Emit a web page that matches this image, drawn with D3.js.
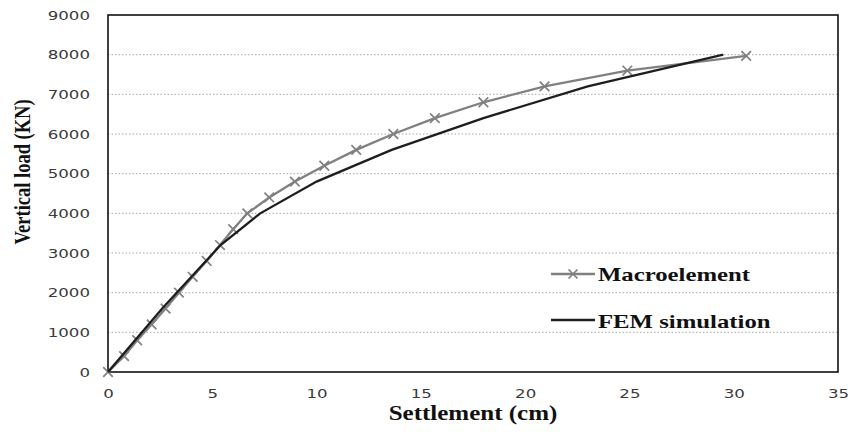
<!DOCTYPE html>
<meta charset="utf-8">
<style>
body { margin: 0; background: #fff; }
.grid line { stroke: #a6a6a6; stroke-dasharray: 1.5,2; }
.tick text { font-family: "DejaVu Sans", Verdana, sans-serif; font-size: 12.8px; fill: #3a3a3a; }
.title { font-family: "Liberation Serif", "Times New Roman", serif; font-weight: bold; fill: #111; }
</style>
<svg width="848" height="432"></svg>
<script src="https://d3js.org/d3.v7.min.js"></script>
<script>

// settlement (cm) / vertical load (KN)
var macroX = [0, 0.77, 1.4, 2.09, 2.76, 3.4, 4.06, 4.73, 5.37, 6.0, 6.68, 7.73, 8.96, 10.37, 11.9, 13.68, 15.67, 18.0, 20.93, 24.9, 30.6];
var macroY = [0, 400, 800, 1200, 1600, 2000, 2400, 2800, 3200, 3600, 4000, 4400, 4800, 5200, 5600, 6000, 6400, 6800, 7200, 7600, 7970];

var femX = [0, 1.3, 2.6, 4.0, 5.4, 7.3, 10.0, 13.6, 18.0, 23.0, 29.5];
var femY = [0, 800, 1600, 2400, 3200, 4000, 4800, 5600, 6400, 7200, 8000];

var xTicks = [0, 5, 10, 15, 20, 25, 30, 35];
var yTicks = [0, 1000, 2000, 3000, 4000, 5000, 6000, 7000, 8000, 9000];

var seriesNames = ["Macroelement", "FEM simulation"];

var stretch = 1.3; // the original picture is stretched sideways

var svg = d3.select("svg");
var plotL = 108, plotR = 838, plotT = 15, plotB = 372;

var x = d3.scaleLinear().domain([0, 35]).range([plotL, plotR]);
var y = d3.scaleLinear().domain([0, 9000]).range([plotB, plotT]);

// gridlines
svg.append("g")
    .attr("class", "grid")
  .selectAll("line")
  .data(yTicks.filter(function(d) { return d > 0 && d < 9000; }))
  .enter().append("line")
    .attr("x1", plotL)
    .attr("x2", plotR)
    .attr("y1", function(d) { return y(d); })
    .attr("y2", function(d) { return y(d); });

// axes
var yAxis = svg.append("g")
    .attr("transform", "translate(" + plotL + ",0)")
    .call(d3.axisLeft(y).tickValues(yTicks).tickSize(0).tickFormat(d3.format("d")));
yAxis.select(".domain").remove();
yAxis.selectAll("text")
    .attr("x", -18 / stretch)
    .attr("transform", "scale(" + stretch + ",1)");

var xAxis = svg.append("g")
    .attr("transform", "translate(0," + plotB + ")")
    .call(d3.axisBottom(x).tickValues(xTicks).tickSize(0));
xAxis.select(".domain").remove();
xAxis.selectAll(".tick text")
    .attr("y", 26)
    .attr("dy", 0)
    .attr("transform", "scale(" + stretch + ",1)");

// plot box
svg.append("rect")
    .attr("x", plotL)
    .attr("y", plotT)
    .attr("width", plotR - plotL)
    .attr("height", plotB - plotT)
    .attr("fill", "none")
    .attr("stroke", "#111")
    .attr("stroke-width", 1.6);

var line = d3.line()
    .x(function(d) { return x(d[0]); })
    .y(function(d) { return y(d[1]); });

var macro = d3.zip(macroX, macroY);
var fem = d3.zip(femX, femY);

svg.append("path")
    .datum(macro)
    .attr("fill", "none")
    .attr("stroke", "#808080")
    .attr("stroke-width", 2.3)
    .attr("d", line);

function cross(sel, s) {
  sel.append("path")
      .attr("d", "M" + (-s) + "," + (-s) + "L" + s + "," + s + "M" + (-s) + "," + s + "L" + s + "," + (-s))
      .attr("stroke", "#808080")
      .attr("stroke-width", 1.7)
      .attr("fill", "none");
}

svg.append("g")
  .selectAll("g")
  .data(macro)
  .enter().append("g")
    .attr("transform", function(d) { return "translate(" + x(d[0]) + "," + y(d[1]) + ")"; })
    .call(cross, 4.8);

svg.append("path")
    .datum(fem)
    .attr("fill", "none")
    .attr("stroke", "#1e1e1e")
    .attr("stroke-width", 2.3)
    .attr("d", line);

// legend
var lg = svg.append("g");
lg.append("line").attr("x1", 551).attr("x2", 595).attr("y1", 274).attr("y2", 274)
    .attr("stroke", "#808080").attr("stroke-width", 2.3);
lg.append("g").attr("transform", "translate(573,274)").call(cross, 4.5);
lg.append("line").attr("x1", 551).attr("x2", 595).attr("y1", 320).attr("y2", 320)
    .attr("stroke", "#1e1e1e").attr("stroke-width", 2.3);

function stretchedText(tx, ty, txt, size, anchor) {
  svg.append("text")
      .attr("class", "title")
      .attr("transform", "translate(" + tx + "," + ty + ") scale(1.25,1)")
      .attr("text-anchor", anchor)
      .style("font-size", size + "px")
      .text(txt);
}

stretchedText(598, 281, seriesNames[0], 19.8, "start");
stretchedText(598, 328, seriesNames[1], 19.8, "start");
stretchedText(473, 420, "Settlement (cm)", 20, "middle");

svg.append("text")
    .attr("class", "title")
    .attr("transform", "translate(30,172) rotate(-90) scale(1,1.25)")
    .attr("text-anchor", "middle")
    .style("font-size", "18.5px")
    .text("Vertical load (KN)");

</script>
